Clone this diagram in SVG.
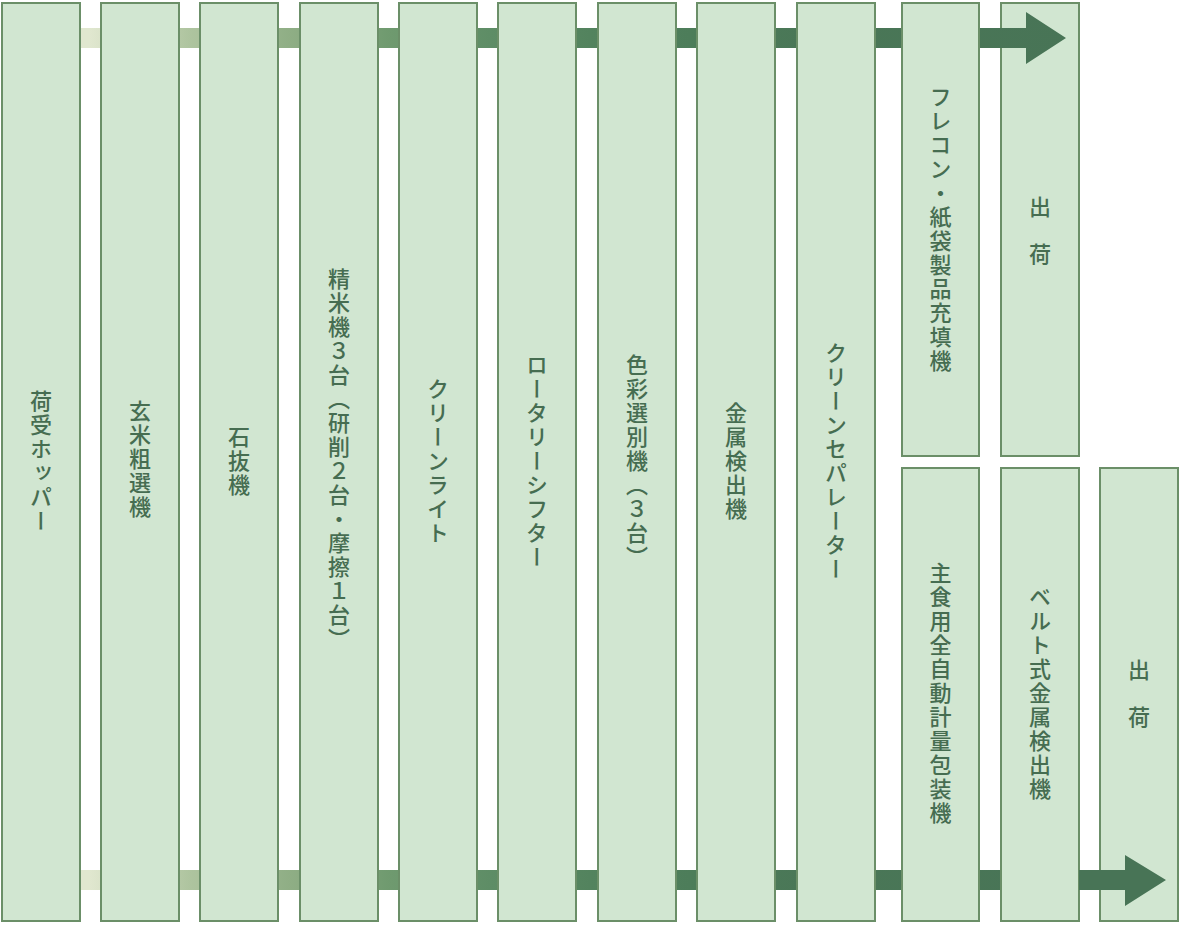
<svg xmlns="http://www.w3.org/2000/svg" width="1180" height="925" viewBox="0 0 1180 925">
<style>
.box{fill:#d1e6d1;stroke:#6b8f68;stroke-width:2}
.lbl{font-family:"Noto Sans CJK JP","Noto Sans",sans-serif;font-size:22px;font-weight:500;fill:#466d51;writing-mode:vertical-rl;text-anchor:middle;letter-spacing:2px}
.sp{letter-spacing:1.5px}
</style>
<defs>
<linearGradient id="flow" gradientUnits="userSpaceOnUse" x1="80" y1="0" x2="1080" y2="0">
<stop offset="0.01" stop-color="#e0e7cf"/>
<stop offset="0.11" stop-color="#aec49f"/>
<stop offset="0.21" stop-color="#8fae85"/>
<stop offset="0.31" stop-color="#6f9a6f"/>
<stop offset="0.41" stop-color="#5e8d66"/>
<stop offset="0.51" stop-color="#53835e"/>
<stop offset="0.61" stop-color="#4d7d5a"/>
<stop offset="0.72" stop-color="#4a7757"/>
<stop offset="1" stop-color="#487456"/>
</linearGradient>
</defs>
<rect width="1180" height="925" fill="#ffffff"/>
<g id="nodes">
<g id="n1"><rect class="box" x="2" y="3" width="78" height="918"/><text class="lbl" x="41" y="462">荷受ホッパー</text></g>
<g id="n2"><rect class="box" x="101" y="3" width="78" height="918"/><text class="lbl" x="140" y="460">玄米粗選機</text></g>
<g id="n3"><rect class="box" x="200" y="3" width="78" height="918"/><text class="lbl" x="239" y="462">石抜機</text></g>
<g id="n4"><rect class="box" x="300" y="3" width="78" height="918"/><text class="lbl" x="339" y="460">精米機３台（研削２台・摩擦１台）</text></g>
<g id="n5"><rect class="box" x="399" y="3" width="78" height="918"/><text class="lbl" x="438" y="462">クリーンライト</text></g>
<g id="n6"><rect class="box" x="498" y="3" width="78" height="918"/><text class="lbl" x="537" y="462">ロータリーシフター</text></g>
<g id="n7"><rect class="box" x="598" y="3" width="78" height="918"/><text class="lbl" x="637" y="462">色彩選別機（３台）</text></g>
<g id="n8"><rect class="box" x="697" y="3" width="78" height="918"/><text class="lbl" x="736" y="462">金属検出機</text></g>
<g id="n9"><rect class="box" x="797" y="3" width="78" height="918"/><text class="lbl" x="836" y="462">クリーンセパレーター</text></g>
<g id="n10"><rect class="box" x="902" y="3" width="77" height="453"/><text class="lbl" x="940.5" y="230">フレコン・紙袋製品充填機</text></g>
<g id="n11"><rect class="box" x="1001" y="3" width="78" height="453"/><text class="lbl sp" x="1040" y="231">出　荷</text></g>
<g id="n12"><rect class="box" x="902" y="468" width="77" height="453"/><text class="lbl" x="940.5" y="694">主食用全自動計量包装機</text></g>
<g id="n13"><rect class="box" x="1001" y="468" width="78" height="453"/><text class="lbl" x="1040" y="694">ベルト式金属検出機</text></g>
<g id="n14"><rect class="box" x="1100" y="468" width="78" height="453"/><text class="lbl sp" x="1139" y="694">出　荷</text></g>
</g>
<g id="connectors" fill="url(#flow)">
<path d="M81 28H100V48H81Z M180 28H199V48H180Z M279 28H299V48H279Z M379 28H398V48H379Z M478 28H497V48H478Z M577 28H597V48H577Z M677 28H696V48H677Z M776 28H796V48H776Z M876 28H901V48H876Z M980 28H1026V12L1066 38L1026 64V48H980Z"/>
<path d="M81 870H100V890H81Z M180 870H199V890H180Z M279 870H299V890H279Z M379 870H398V890H379Z M478 870H497V890H478Z M577 870H597V890H577Z M677 870H696V890H677Z M776 870H796V890H776Z M876 870H901V890H876Z M980 870H1000V890H980Z M1079 870H1125V855L1166 880L1125 906V890H1079Z"/>
</g>
</svg>
